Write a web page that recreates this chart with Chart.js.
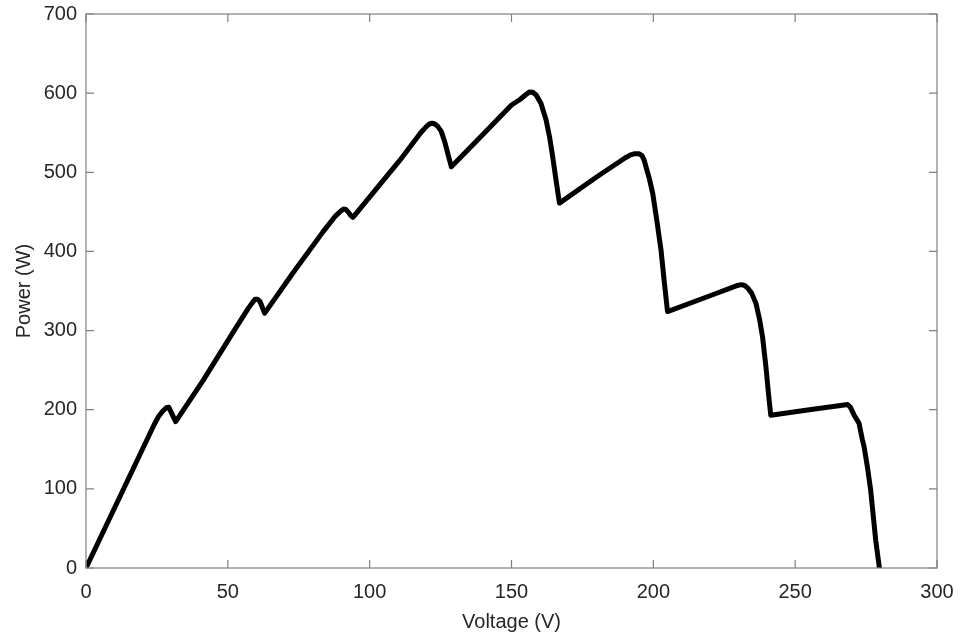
<!DOCTYPE html>
<html lang="en">

<head>
    <meta charset="UTF-8">
    <script src="https://cdn.jsdelivr.net/npm/chart.js"></script>
    <title>P-V curve</title>
    <style>
        html, body { margin: 0; padding: 0; background: #fff; }
    </style>
</head>

<body>
    <canvas id="pv" width="963" height="637"></canvas>
    <script>
        // voltage (V) and power (W)
        const voltage = [0, 24, 25.5, 27, 28.3, 29.2, 30, 30.8, 31.6,
            41.3, 53.1, 57.2, 58.6, 59.6, 60.5, 61.3, 62, 62.5, 63,
            73, 83.6, 88, 89.8, 90.8, 91.6, 92.4, 93.2, 94.1,
            110.6, 118, 119.8, 121, 122, 123, 124, 125.2, 126.5, 127.8, 128.8,
            140, 150, 153, 155, 156.3, 157.5, 158.7, 160.4, 162.2, 163.4, 164.5, 165.7, 166.9,
            180, 190, 192, 193.5, 195, 196, 196.8, 197.4, 198.6, 199.8, 201.2, 202.7, 203.9, 205,
            220, 229.7, 231, 232.2, 233.2, 234.7, 236.2, 237.4, 238.5, 239.7, 240.6, 241.4,
            255, 267.3, 268.5, 269.5, 270.8, 272.5, 273.7, 274.3, 275.5, 276.6, 278.4, 279.7]
        const power = [0, 181, 191, 198, 202.5, 203, 197, 191, 185,
            237, 305, 328, 335, 339.5, 339.5, 337, 331, 326, 322,
            373, 425, 445, 451, 453.5, 453, 450, 446, 443,
            515, 550, 557, 561, 562, 561, 558, 552, 538, 520, 507,
            548, 585, 592, 598, 601.5, 601, 597.7, 587, 566, 545, 520, 490, 461,
            494, 518, 522, 523.5, 523.5, 521, 515, 507, 492, 473, 440, 402, 360, 324,
            344, 357, 358, 357, 354, 347, 334, 315, 292, 254, 220, 193,
            200, 206, 206.5, 203, 193, 183, 162, 153, 127, 99, 35, 0]

        const xTicks = [0, 50, 100, 150, 200, 250, 300]
        const yTicks = [0, 100, 200, 300, 400, 500, 600, 700]

        const axisColor = '#808080'
        const textColor = '#262626'
        const fontFamily = '"Liberation Sans", Arial, Helvetica, sans-serif'

        // box around the plot with inward ticks on all four sides
        const boxPlugin = {
            id: 'box_ticks',
            afterDraw: (chart) => {
                const ctx = chart.ctx
                const a = chart.chartArea
                const xs = chart.scales.x
                const ys = chart.scales.y
                const len = 8
                ctx.save()
                ctx.strokeStyle = axisColor
                ctx.lineWidth = 1.2
                ctx.strokeRect(a.left, a.top, a.right - a.left, a.bottom - a.top)
                ctx.beginPath()
                xTicks.forEach(v => {
                    const px = xs.getPixelForValue(v)
                    ctx.moveTo(px, a.bottom); ctx.lineTo(px, a.bottom - len)
                    ctx.moveTo(px, a.top); ctx.lineTo(px, a.top + len)
                })
                yTicks.forEach(v => {
                    const py = ys.getPixelForValue(v)
                    ctx.moveTo(a.left, py); ctx.lineTo(a.left + len, py)
                    ctx.moveTo(a.right, py); ctx.lineTo(a.right - len, py)
                })
                ctx.stroke()
                ctx.restore()
            }
        }

        const points = voltage.map((v, i) => ({ x: v, y: power[i] }))

        new Chart(document.getElementById('pv'), {
            type: 'line',
            data: {
                datasets: [{
                    data: points,
                    borderColor: '#000',
                    borderWidth: 5,
                    pointRadius: 0,
                    fill: false,
                    tension: 0,
                    borderJoinStyle: 'round',
                    borderCapStyle: 'round'
                }]
            },
            options: {
                responsive: false,
                animation: false,
                layout: { padding: { top: 14, right: 26, left: 0, bottom: 0 } },
                plugins: { legend: { display: false }, tooltip: { enabled: false } },
                scales: {
                    x: {
                        type: 'linear',
                        min: 0,
                        max: 300,
                        afterFit: (s) => { s.height = 69; s.paddingLeft = 0; s.paddingRight = 0 },
                        afterBuildTicks: (s) => { s.ticks = xTicks.map(v => ({ value: v })) },
                        grid: { display: false, drawTicks: false },
                        border: { display: false },
                        ticks: {
                            color: textColor,
                            padding: 12,
                            maxRotation: 0,
                            font: { family: fontFamily, size: 20 }
                        },
                        title: {
                            display: true,
                            text: 'Voltage (V)',
                            color: textColor,
                            font: { family: fontFamily, size: 20 },
                            padding: { top: 0, bottom: 3 }
                        }
                    },
                    y: {
                        type: 'linear',
                        min: 0,
                        max: 700,
                        afterFit: (s) => { s.width = 86; s.paddingTop = 0; s.paddingBottom = 0 },
                        afterBuildTicks: (s) => { s.ticks = yTicks.map(v => ({ value: v })) },
                        grid: { display: false, drawTicks: false },
                        border: { display: false },
                        ticks: {
                            color: textColor,
                            padding: 9,
                            font: { family: fontFamily, size: 20 }
                        },
                        title: {
                            display: true,
                            text: 'Power (W)',
                            color: textColor,
                            font: { family: fontFamily, size: 20 },
                            padding: { top: 12, bottom: 0 }
                        }
                    }
                }
            },
            plugins: [boxPlugin]
        })
    </script>
</body>

</html>
